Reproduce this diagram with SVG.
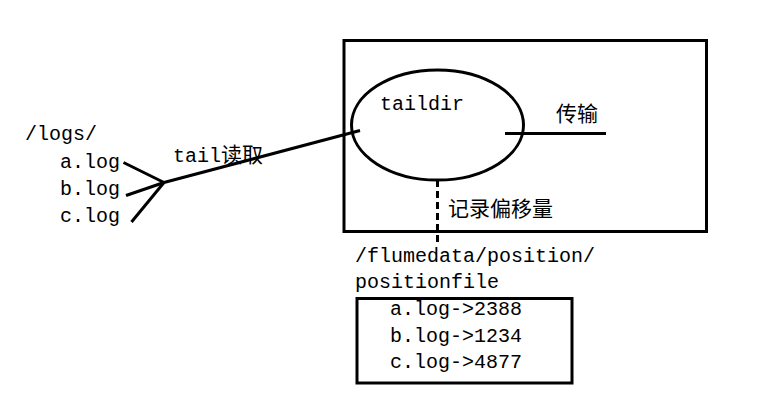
<svg xmlns="http://www.w3.org/2000/svg" width="761" height="419" viewBox="0 0 761 419">
<style>
  .t { font-family: "Liberation Mono", "Noto Sans CJK SC", monospace; font-size: 20px; fill: #000; }
  .c { font-family: "Noto Sans CJK SC", "Liberation Mono", sans-serif; font-size: 21px; fill: #000; }
  .s { fill: none; stroke: #000; stroke-width: 3; }
</style>
<rect width="761" height="419" fill="#fff"/>
<g id="sources">
  <text class="t" x="25" y="140">/logs/</text>
  <text class="t" x="60" y="168">a.log</text>
  <text class="t" x="60" y="195">b.log</text>
  <text class="t" x="60" y="222">c.log</text>
</g>
<g id="agent">
  <rect class="s" x="344" y="40.5" width="362.5" height="191"/>
</g>
<g id="taildir">
  <ellipse class="s" cx="437.5" cy="125" rx="86" ry="55" stroke-width="2.5"/>
  <text class="t" x="380" y="110">taildir</text>
</g>
<g id="positionfile">
  <text class="t" x="355" y="262">/flumedata/position/</text>
  <text class="t" x="355" y="288">positionfile</text>
  <rect class="s" x="357" y="298.5" width="215" height="84.5"/>
  <text class="t" x="390" y="315">a.log-&gt;2388</text>
  <text class="t" x="390" y="342">b.log-&gt;1234</text>
  <text class="t" x="390" y="368">c.log-&gt;4877</text>
</g>
<g id="connectors">
  <line class="s" x1="123.5" y1="162.5" x2="164" y2="182.5"/>
  <line class="s" x1="126" y1="195.5" x2="164" y2="182.5"/>
  <line class="s" x1="131.5" y1="222" x2="164" y2="182.5"/>
  <line class="s" x1="164" y1="182.5" x2="360" y2="130.5"/>
  <text class="t" x="173" y="162">tail<tspan class="c" font-size="21">读取</tspan></text>
  <line class="s" x1="505" y1="133.5" x2="606" y2="133.5"/>
  <text class="c" x="556" y="121">传输</text>
  <line class="s" x1="437.5" y1="180" x2="437.5" y2="242" stroke-dasharray="7 4"/>
  <text class="c" x="448" y="216">记录偏移量</text>
</g>
</svg>
